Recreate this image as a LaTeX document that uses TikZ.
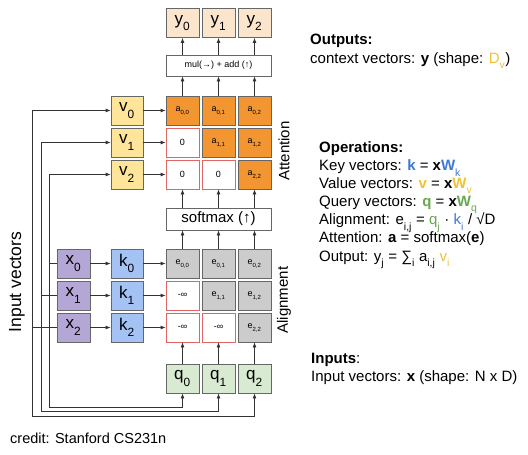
\documentclass[tikz,border=0pt]{standalone}
\usepackage{fontspec}
\setmainfont{Liberation Sans}
\usetikzlibrary{arrows.meta}

\definecolor{edgegray}{HTML}{666666}
\definecolor{linegray}{HTML}{333333}
\definecolor{maskred}{HTML}{E06666}
\definecolor{ypeach}{HTML}{FCE5CD}
\definecolor{aorange}{HTML}{F39530}
\definecolor{vyellow}{HTML}{FFE599}
\definecolor{xpurple}{HTML}{B4A7D6}
\definecolor{kblue}{HTML}{A4C2F4}
\definecolor{egray}{HTML}{CCCCCC}
\definecolor{qgreen}{HTML}{D9EAD3}
\definecolor{txtblue}{HTML}{3C78D8}
\definecolor{txtyellow}{HTML}{F1C232}
\definecolor{txtgreen}{HTML}{6AA84F}

% dropped subscript, as in the slide
\newcommand{\lsub}[1]{\raisebox{-0.4ex}{\textsubscript{#1}}}

\tikzset{
  box/.style={draw=edgegray, line width=0.8pt, minimum width=33pt, minimum height=29pt,
    inner sep=0pt, font=\fontsize{17}{17}\selectfont},
  cell/.style={box, font=\fontsize{9}{9}\selectfont},
  masked/.style={cell, draw=maskred, fill=white},
  wide/.style={draw=edgegray, line width=0.8pt, fill=white, minimum width=105pt, inner sep=0pt},
  side/.style={rotate=90, font=\fontsize{15}{15}\selectfont},
  info/.style={anchor=base west, inner sep=0pt, font=\fontsize{15}{15}\selectfont},
  arr/.style={draw=linegray, line width=0.8pt, -{Latex[length=5pt,width=4pt]}},
  wire/.style={draw=linegray, line width=0.8pt},
}

\begin{document}
\begin{tikzpicture}[x=1pt, y=-1pt]
\fill[white] (0,0) rectangle (528,455);
\useasboundingbox (0,0) rectangle (528,455);

% outputs and the mixing step
\node (y0) [box, fill=ypeach] at (182.5,23) {y\lsub{0}};
\node (y1) [box, fill=ypeach] at (218.5,23) {y\lsub{1}};
\node (y2) [box, fill=ypeach] at (254.5,23) {y\lsub{2}};
\node (mul) [wide, minimum height=21pt, font=\fontsize{9}{9}\selectfont] at (218.5,65.5) {mul(→) + add (↑)};

% attention block
\node (v0) [box, fill=vyellow, minimum width=32pt] at (127,110.5) {v\lsub{0}};
\node (v1) [box, fill=vyellow, minimum width=32pt] at (127,142.5) {v\lsub{1}};
\node (v2) [box, fill=vyellow, minimum width=32pt] at (127,174.5) {v\lsub{2}};
\node (a00) [cell, fill=aorange] at (182.5,110.5) {a\lsub{0,0}};
\node (a01) [cell, fill=aorange] at (218.5,110.5) {a\lsub{0,1}};
\node (a02) [cell, fill=aorange] at (254.5,110.5) {a\lsub{0,2}};
\node (a10) [masked] at (182.5,142.5) {0};
\node (a11) [cell, fill=aorange] at (218.5,142.5) {a\lsub{1,1}};
\node (a12) [cell, fill=aorange] at (254.5,142.5) {a\lsub{1,2}};
\node (a20) [masked] at (182.5,174.5) {0};
\node (a21) [masked] at (218.5,174.5) {0};
\node (a22) [cell, fill=aorange] at (254.5,174.5) {a\lsub{2,2}};
\node (att) [side] at (284,151) {Attention};

\node (soft) [wide, minimum height=22pt, font=\fontsize{15}{15}\selectfont] at (218.5,219) {softmax (↑)};

% alignment block
\node (x0) [box, fill=xpurple] at (73.5,263.5) {x\lsub{0}};
\node (x1) [box, fill=xpurple] at (73.5,295.5) {x\lsub{1}};
\node (x2) [box, fill=xpurple] at (73.5,327.5) {x\lsub{2}};
\node (k0) [box, fill=kblue, minimum width=32pt] at (127,263.5) {k\lsub{0}};
\node (k1) [box, fill=kblue, minimum width=32pt] at (127,295.5) {k\lsub{1}};
\node (k2) [box, fill=kblue, minimum width=32pt] at (127,327.5) {k\lsub{2}};
\node (e00) [cell, fill=egray] at (182.5,263.5) {e\lsub{0,0}};
\node (e01) [cell, fill=egray] at (218.5,263.5) {e\lsub{0,1}};
\node (e02) [cell, fill=egray] at (254.5,263.5) {e\lsub{0,2}};
\node (e10) [masked] at (182.5,295.5) {-∞};
\node (e11) [cell, fill=egray] at (218.5,295.5) {e\lsub{1,1}};
\node (e12) [cell, fill=egray] at (254.5,295.5) {e\lsub{1,2}};
\node (e20) [masked] at (182.5,327.5) {-∞};
\node (e21) [masked] at (218.5,327.5) {-∞};
\node (e22) [cell, fill=egray] at (254.5,327.5) {e\lsub{2,2}};
\node (ali) [side] at (284,300) {Alignment};

\node (q0) [box, fill=qgreen] at (182.5,378.5) {q\lsub{0}};
\node (q1) [box, fill=qgreen] at (218.5,378.5) {q\lsub{1}};
\node (q2) [box, fill=qgreen] at (254.5,378.5) {q\lsub{2}};

\node (inp) [side, font=\fontsize{17.5}{17.5}\selectfont] at (17,282) {Input vectors};

% input buses
\coordinate (lowA) at (32,416);
\coordinate (lowB) at (41,411);
\coordinate (lowC) at (49,407);

\draw[wire] (x2.west) -- (x2.west -| lowA);
\draw[arr] (x2.west -| lowA) |- (v0.west);
\draw[arr] (x2.west -| lowA) -- (lowA) -| (q2.south);
\draw[wire] (x1.west) -- (x1.west -| lowB);
\draw[arr] (x1.west -| lowB) |- (v1.west);
\draw[arr] (x1.west -| lowB) -- (lowB) -| (q1.south);
\draw[wire] (x0.west) -- (x0.west -| lowC);
\draw[arr] (x0.west -| lowC) |- (v2.west);
\draw[arr] (x0.west -| lowC) -- (lowC) -| (q0.south);

% horizontal flow
\draw[arr] (v0) -- (a00);
\draw[arr] (v1) -- (a10);
\draw[arr] (v2) -- (a20);
\draw[arr] (x0) -- (k0);
\draw[arr] (x1) -- (k1);
\draw[arr] (x2) -- (k2);
\draw[arr] (k0) -- (e00);
\draw[arr] (k1) -- (e10);
\draw[arr] (k2) -- (e20);

% vertical flow
\draw[arr] (q0) -- (e20);
\draw[arr] (q1) -- (e21);
\draw[arr] (q2) -- (e22);
\draw[arr] (e00.north) -- (e00.north |- soft.south);
\draw[arr] (e01.north) -- (e01.north |- soft.south);
\draw[arr] (e02.north) -- (e02.north |- soft.south);
\draw[arr] (soft.north -| a20) -- (a20.south);
\draw[arr] (soft.north -| a21) -- (a21.south);
\draw[arr] (soft.north -| a22) -- (a22.south);
\draw[arr] (a00.north) -- (a00.north |- mul.south);
\draw[arr] (a01.north) -- (a01.north |- mul.south);
\draw[arr] (a02.north) -- (a02.north |- mul.south);
\draw[arr] (mul.north -| y0) -- (y0.south);
\draw[arr] (mul.north -| y1) -- (y1.south);
\draw[arr] (mul.north -| y2) -- (y2.south);

% text panel
\node (outh) [info] at (310,44) {\textbf{Outputs:}};
\node (outl) [info] at (310,63) {context vectors: \textbf{y} (shape: {\color{txtyellow}D\lsub{v}})};

\node (oph) [info] at (319,152.5) {\textbf{Operations:}};
\node (opk) [info] at (319,170.5) {Key vectors: {\color{txtblue}\textbf{k}} = \textbf{x}{\color{txtblue}\textbf{W}\lsub{k}}};
\node (opv) [info] at (319,188.5) {Value vectors: {\color{txtyellow}\textbf{v}} = \textbf{x}{\color{txtyellow}\textbf{W}\lsub{v}}};
\node (opq) [info] at (319,206.5) {Query vectors: {\color{txtgreen}\textbf{q}} = \textbf{x}{\color{txtgreen}\textbf{W}\lsub{q}}};
\node (ope) [info] at (319,224.5) {Alignment: e\lsub{i,j} = {\color{txtgreen}q\lsub{j}} · {\color{txtblue}k\lsub{i}} / √D};
\node (opa) [info] at (319,242.5) {Attention: \textbf{a} = softmax(\textbf{e})};
\node (opy) [info] at (319,261) {Output: y\lsub{j} = ∑\lsub{i} a\lsub{i,j} {\color{txtyellow}v\lsub{i}}};

\node (inh) [info] at (311,363) {\textbf{Inputs}:};
\node (inl) [info] at (311,381) {Input vectors: \textbf{x} (shape: N x D)};

\node (cred) [info, font=\fontsize{14.5}{14.5}\selectfont] at (10,443) {credit: Stanford CS231n};
\end{tikzpicture}
\end{document}
